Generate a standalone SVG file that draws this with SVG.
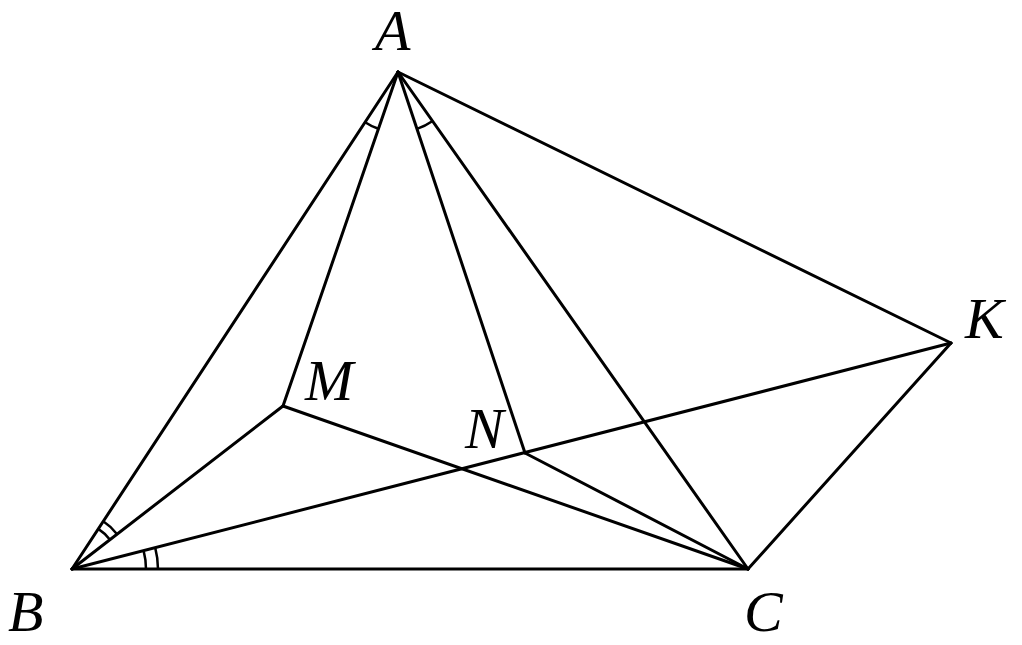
<svg xmlns="http://www.w3.org/2000/svg" width="1022" height="645" viewBox="0 0 1022 645">
<style>
.l{stroke:#000;stroke-width:3;fill:none;stroke-linecap:round;stroke-linejoin:round}
.a{stroke:#000;stroke-width:2.5;fill:none}
.t{font-family:"Liberation Serif",serif;font-style:italic;font-size:58px;fill:#000}
</style>
<rect width="1022" height="645" fill="#fff"/>
<g id="connectors">
<line class="l" x1="398" y1="72" x2="72" y2="569"/>
<line class="l" x1="398" y1="72" x2="283" y2="406"/>
<line class="l" x1="398" y1="72" x2="525" y2="453"/>
<line class="l" x1="398" y1="72" x2="748" y2="569"/>
<line class="l" x1="398" y1="72" x2="951" y2="343"/>
<line class="l" x1="72" y1="569" x2="748" y2="569"/>
<line class="l" x1="72" y1="569" x2="283" y2="406"/>
<line class="l" x1="72" y1="569" x2="951" y2="343"/>
<line class="l" x1="283" y1="406" x2="748" y2="569"/>
<line class="l" x1="525" y1="453" x2="748" y2="569"/>
<line class="l" x1="951" y1="343" x2="748" y2="569"/>
</g>
<g id="angles">
<path class="a" d="M365.1,122.2 A60,60 0 0 0 378.4,128.8"/>
<path class="a" d="M417,128.9 A60,60 0 0 0 432.6,121.1"/>
<path class="a" d="M98.3,528.9 A48,48 0 0 1 110,539.7"/>
<path class="a" d="M103.2,521.3 A57,57 0 0 1 117.1,534.2"/>
<path class="a" d="M143.6,550.6 A74,74 0 0 1 146,569"/>
<path class="a" d="M155.2,547.6 A86,86 0 0 1 158,569"/>
</g>
<g id="A"><text class="t" x="375" y="50">A</text></g>
<g id="B"><text class="t" x="8" y="631">B</text></g>
<g id="C"><text class="t" x="744" y="631">C</text></g>
<g id="K"><text class="t" x="965" y="338">K</text></g>
<g id="M"><text class="t" x="305" y="400">M</text></g>
<g id="N"><text class="t" x="465" y="448">N</text></g>
</svg>
